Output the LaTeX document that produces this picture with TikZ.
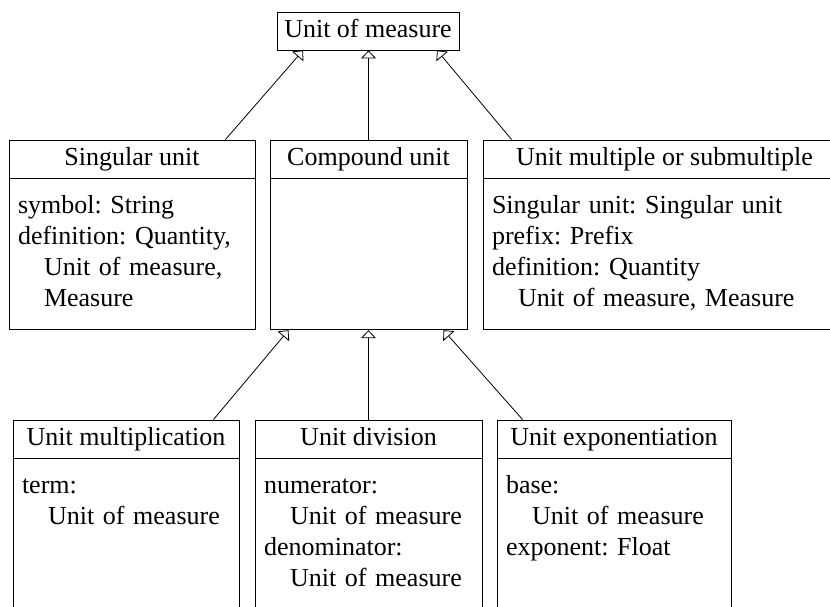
\documentclass[tikz,border=0pt]{standalone}
\usepackage{fontspec}
\setmainfont{Liberation Serif}
\usetikzlibrary{positioning}
\usetikzlibrary{arrows.meta}
\newcommand{\attrindent}{\hspace*{26pt}}
\frenchspacing

\begin{document}
\begin{tikzpicture}[x=1pt,y=1pt,
 font=\fontsize{26}{31}\selectfont,
 classname/.style={draw,line width=0.8pt,minimum height=38pt,inner sep=0pt,text height=19.5pt,text depth=6.5pt},
 attrs/.style={draw,line width=0.8pt,align=left,inner sep=9pt,text height=26pt},
 isa/.style={line width=0.8pt,-{Triangle[open,length=8pt,width=15pt]}}]
 \clip (0,0) rectangle (830,606);
 \node[classname,minimum width=182pt] (uom) at (368,575) {Unit of measure};

 \node[classname,minimum width=246pt] (su) at (132,447) {Singular unit};
 \node[attrs,text width=228pt,text depth=107pt,below=0pt of su] (suattr) {symbol: String\\definition: Quantity,\\\attrindent Unit of measure,\\\attrindent Measure};
 \node[classname,minimum width=197pt] (cu) at (368.5,447) {Compound unit};
 \node[attrs,text width=179pt,text depth=107pt,below=0pt of cu] (cuattr) {};
 \node[classname,minimum width=363pt] (mu) at (664.5,447) {Unit multiple or submultiple};
 \node[attrs,text width=345pt,text depth=107pt,below=0pt of mu] (muattr) {Singular unit: Singular unit\\prefix: Prefix\\definition: Quantity\\\attrindent Unit of measure, Measure};

 \node[classname,minimum width=226pt] (um) at (126,167) {Unit multiplication};
 \node[attrs,text width=208pt,text depth=116pt,below=0pt of um] (umattr) {term:\\\attrindent Unit of measure};
 \node[classname,minimum width=227pt] (ud) at (368.5,167) {Unit division};
 \node[attrs,text width=209pt,text depth=116pt,below=0pt of ud] (udattr) {numerator:\\\attrindent Unit of measure\\denominator:\\\attrindent Unit of measure};
 \node[classname,minimum width=234pt] (ue) at (614,167) {Unit exponentiation};
 \node[attrs,text width=216pt,text depth=116pt,below=0pt of ue] (ueattr) {base:\\\attrindent Unit of measure\\exponent: Float};

 \draw[isa] ([xshift=-30pt]su.north east) -- ([xshift=-65pt]uom.south);
 \draw[isa] (cu.north) -- (cu.north |- uom.south);
 \draw[isa] ([xshift=29pt]mu.north west) -- ([xshift=69pt]uom.south);

 \draw[isa] ([xshift=-26pt]um.north east) -- ([xshift=-80pt]cuattr.south);
 \draw[isa] (ud.north) -- (cuattr.south);
 \draw[isa] ([xshift=26pt]ue.north west) -- ([xshift=75pt]cuattr.south);
\end{tikzpicture}
\end{document}
